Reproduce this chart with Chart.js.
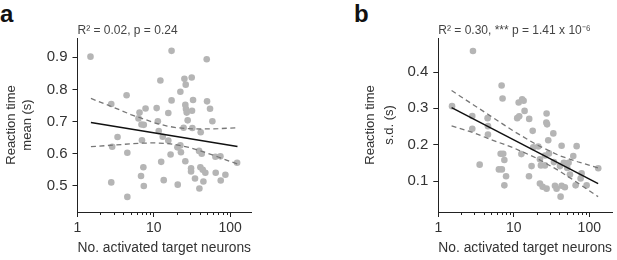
<!DOCTYPE html>
<html>
<head>
<meta charset="utf-8">
<script src="https://cdn.jsdelivr.net/npm/chart.js@4"></script>
<style>
  body { margin: 0; background: #fff; width: 617px; height: 260px; position: relative; overflow: hidden; font-family: "Liberation Sans", Arial, sans-serif; }
  canvas { position: absolute; top: 0; }
  .letter { position: absolute; font-weight: bold; font-size: 24px; line-height: 24px; color: #111; }
</style>
</head>
<body>
<div class="letter" style="left:0px;top:2px">a</div>
<div class="letter" style="left:354px;top:2px">b</div>
<canvas id="chartA" width="260" height="260" style="left:0px"></canvas>
<canvas id="chartB" width="257" height="260" style="left:360px"></canvas>
<script>
// shared x axis (log scale)
const xMajorTicks = [1, 10, 100];
const xMinorTicks = [2, 3, 4, 5, 6, 7, 8, 9, 20, 30, 40, 50, 60, 70, 80, 90];

// panel a: mean reaction time
const yTicksA = [0.5, 0.6, 0.7, 0.8, 0.9];
const neuronsA = [1.48, 17.1, 49.4, 12.2, 25.2, 31.4, 26.2, 22.3, 4.4, 17.1, 32.7, 49.9, 2.77, 25.9, 7.8, 10.9, 15.5, 26.4, 31.7, 54.6,
  6.5, 27, 58.6, 11.3, 27.8, 6.3, 6.9, 7.4, 3.35, 11.6, 13.1, 24.6, 32, 41.2, 2.85, 7, 15.5, 22.3, 20.4, 4.5,
  16.6, 22.7, 39.2, 42.5, 64.2, 74.7, 123.6, 12.5, 25.9, 7.3, 30.8, 30.8, 40.8, 43.8, 47.4, 64.8, 86.8, 6.8, 2.77, 7.4,
  13.5, 20.6, 34.7, 44.7, 75.4, 39.6, 4.5];
const meanRT = [0.902, 0.92, 0.894, 0.828, 0.833, 0.837, 0.815, 0.793, 0.782, 0.766, 0.767, 0.763, 0.755, 0.752, 0.741, 0.742, 0.727, 0.739, 0.734, 0.740,
  0.728, 0.728, 0.701, 0.701, 0.704, 0.71, 0.691, 0.69, 0.652, 0.671, 0.653, 0.681, 0.68, 0.667, 0.622, 0.642, 0.641, 0.626, 0.62, 0.603,
  0.598, 0.605, 0.609, 0.6, 0.591, 0.592, 0.572, 0.575, 0.577, 0.558, 0.555, 0.545, 0.558, 0.55, 0.541, 0.541, 0.535, 0.531, 0.511, 0.5,
  0.518, 0.504, 0.523, 0.514, 0.517, 0.492, 0.466];
const fitXA = [1.5, 125];
const fitA = [0.697, 0.623];
const ciXA = [1.5, 3, 5, 7, 10, 15, 20, 30, 40, 70, 125];
const ciUpperA = [0.772, 0.744, 0.722, 0.71, 0.697, 0.686, 0.681, 0.678, 0.677, 0.678, 0.681];
const ciLowerA = [0.622, 0.627, 0.631, 0.633, 0.634, 0.632, 0.628, 0.619, 0.610, 0.590, 0.568];

// panel b: s.d. of reaction time
const yTicksB = [0.1, 0.2, 0.3, 0.4];
const neuronsB = [1.52, 2.88, 2.82, 2.82, 3.53, 4.5, 4.55, 4.55, 6.9, 7.1, 6.7, 7.25, 6.35, 6.95, 7.5, 7.9, 7.5, 11.6, 12.9, 13.5,
  13.9, 11.1, 11.8, 16, 17.8, 12.6, 17.2, 15.9, 22.2, 18.1, 21.1, 22.2, 22.9, 25.9, 27.2, 27, 27.6, 28.6, 29.2, 27.2,
  24.1, 33.4, 34, 35.1, 36.9, 43, 40.9, 46, 41.7, 43, 47.5, 53.2, 55.5, 51.1, 61.4, 68, 65.9, 79.1, 76.8, 92.2,
  131.5, 25.9];
const sdRT = [0.306, 0.458, 0.279, 0.244, 0.145, 0.273, 0.251, 0.228, 0.363, 0.327, 0.175, 0.175, 0.132, 0.132, 0.158, 0.113, 0.088, 0.316, 0.325, 0.321,
  0.293, 0.273, 0.278, 0.271, 0.238, 0.174, 0.141, 0.113, 0.093, 0.193, 0.195, 0.16, 0.143, 0.143, 0.286, 0.261, 0.256, 0.212, 0.176, 0.079,
  0.084, 0.231, 0.152, 0.087, 0.079, 0.197, 0.141, 0.15, 0.057, 0.087, 0.083, 0.15, 0.118, 0.136, 0.169, 0.196, 0.088, 0.121, 0.107, 0.088,
  0.135, 0.17];
const fitXB = [1.5, 131];
const fitB = [0.302, 0.093];
const ciXB = [1.5, 3, 5, 10, 20, 40, 70, 131];
const ciUpperB = [0.349, 0.308, 0.278, 0.237, 0.200, 0.170, 0.153, 0.136];
const ciLowerB = [0.252, 0.232, 0.214, 0.191, 0.163, 0.128, 0.095, 0.057];

const FONT = '"Liberation Sans", Arial, sans-serif';
const pts = (xs, ys) => xs.map((x, i) => ({ x: x, y: ys[i] }));

// short minor ticks on the log axis
const minorTicks = {
  id: 'minorTicks',
  afterDraw(chart) {
    const s = chart.scales.x, c = chart.ctx;
    c.save();
    c.strokeStyle = '#222';
    c.lineWidth = 1;
    c.beginPath();
    xMinorTicks.forEach(v => {
      const px = Math.round(s.getPixelForValue(v)) + 0.5;
      c.moveTo(px, s.top);
      c.lineTo(px, s.top + 3);
    });
    c.stroke();
    c.restore();
  }
};

function makePanel(id, p) {
  const line = (data, dashed) => ({
    data: data, showLine: true, pointRadius: 0, fill: false,
    borderColor: dashed ? '#777' : '#111',
    borderWidth: dashed ? 1.3 : 1.5,
    borderDash: dashed ? [5, 3.5] : []
  });
  new Chart(document.getElementById(id), {
    type: 'scatter',
    data: {
      datasets: [
        line(pts(p.fitX, p.fit), false),
        line(pts(p.ciX, p.upper), true),
        line(pts(p.ciX, p.lower), true),
        { data: pts(p.xs, p.ys), pointRadius: 3.3, pointBackgroundColor: '#b5b5b5', pointBorderWidth: 0, showLine: false }
      ]
    },
    options: {
      responsive: false,
      animation: false,
      layout: { padding: { top: 23.6, left: p.padLeft, right: p.padRight, bottom: 0 } },
      plugins: {
        legend: { display: false },
        tooltip: { enabled: false },
        title: {
          display: true, text: p.title, align: 'start', fullSize: false,
          color: '#444', font: { family: FONT, size: 12, weight: 'normal' }, padding: 0
        }
      },
      scales: {
        x: {
          type: 'logarithmic', min: 1, max: p.xMax,
          afterBuildTicks: s => { s.ticks = xMajorTicks.map(v => ({ value: v, major: true })); },
          afterFit: s => { s.height = 48; },
          grid: { drawOnChartArea: false, tickLength: 5, tickColor: '#222' },
          border: { color: '#222', width: 1 },
          ticks: { callback: v => String(v), color: '#333', padding: 3, maxRotation: 0, autoSkip: false, font: { family: FONT, size: 14 } },
          title: { display: true, text: 'No. activated target neurons', color: '#333', font: { family: FONT, size: 14 }, padding: { top: 0, bottom: 3 } }
        },
        y: {
          min: p.yMin, max: p.yMax,
          afterBuildTicks: s => { s.ticks = p.yTicks.map(v => ({ value: v })); },
          afterFit: s => { s.width = p.yWidth; },
          grid: { drawOnChartArea: false, tickLength: 5, tickColor: '#222' },
          border: { color: '#222', width: 1 },
          ticks: { callback: v => v.toFixed(1), color: '#333', padding: 5, font: { family: FONT, size: 15 } },
          title: {
            display: true, text: ['Reaction time', p.yLabel2], color: '#333',
            font: { family: FONT, size: 13, lineHeight: p.yLine }, padding: { top: p.yTitleTop, bottom: 0 }
          }
        }
      }
    },
    plugins: [minorTicks]
  });
}

makePanel('chartA', {
  xs: neuronsA, ys: meanRT, fitX: fitXA, fit: fitA, ciX: ciXA, upper: ciUpperA, lower: ciLowerA,
  yTicks: yTicksA, yMin: 0.419, yMax: 0.96, xMax: 188,
  title: 'R\u00B2 = 0.02, p = 0.24', yLabel2: 'mean (s)',
  padLeft: 0, padRight: 9, yWidth: 77.5, yLine: 16 / 13, yTitleTop: 3
});

makePanel('chartB', {
  xs: neuronsB, ys: sdRT, fitX: fitXB, fit: fitB, ciX: ciXB, upper: ciUpperB, lower: ciLowerB,
  yTicks: yTicksB, yMin: 0.0147, yMax: 0.4936, xMax: 200,
  title: 'R\u00B2 = 0.30, *** p = 1.41 x 10\u207B\u2076', yLabel2: 's.d. (s)',
  padLeft: 0, padRight: 5, yWidth: 78.3, yLine: 19 / 13, yTitleTop: 1
});
</script>
</body>
</html>
